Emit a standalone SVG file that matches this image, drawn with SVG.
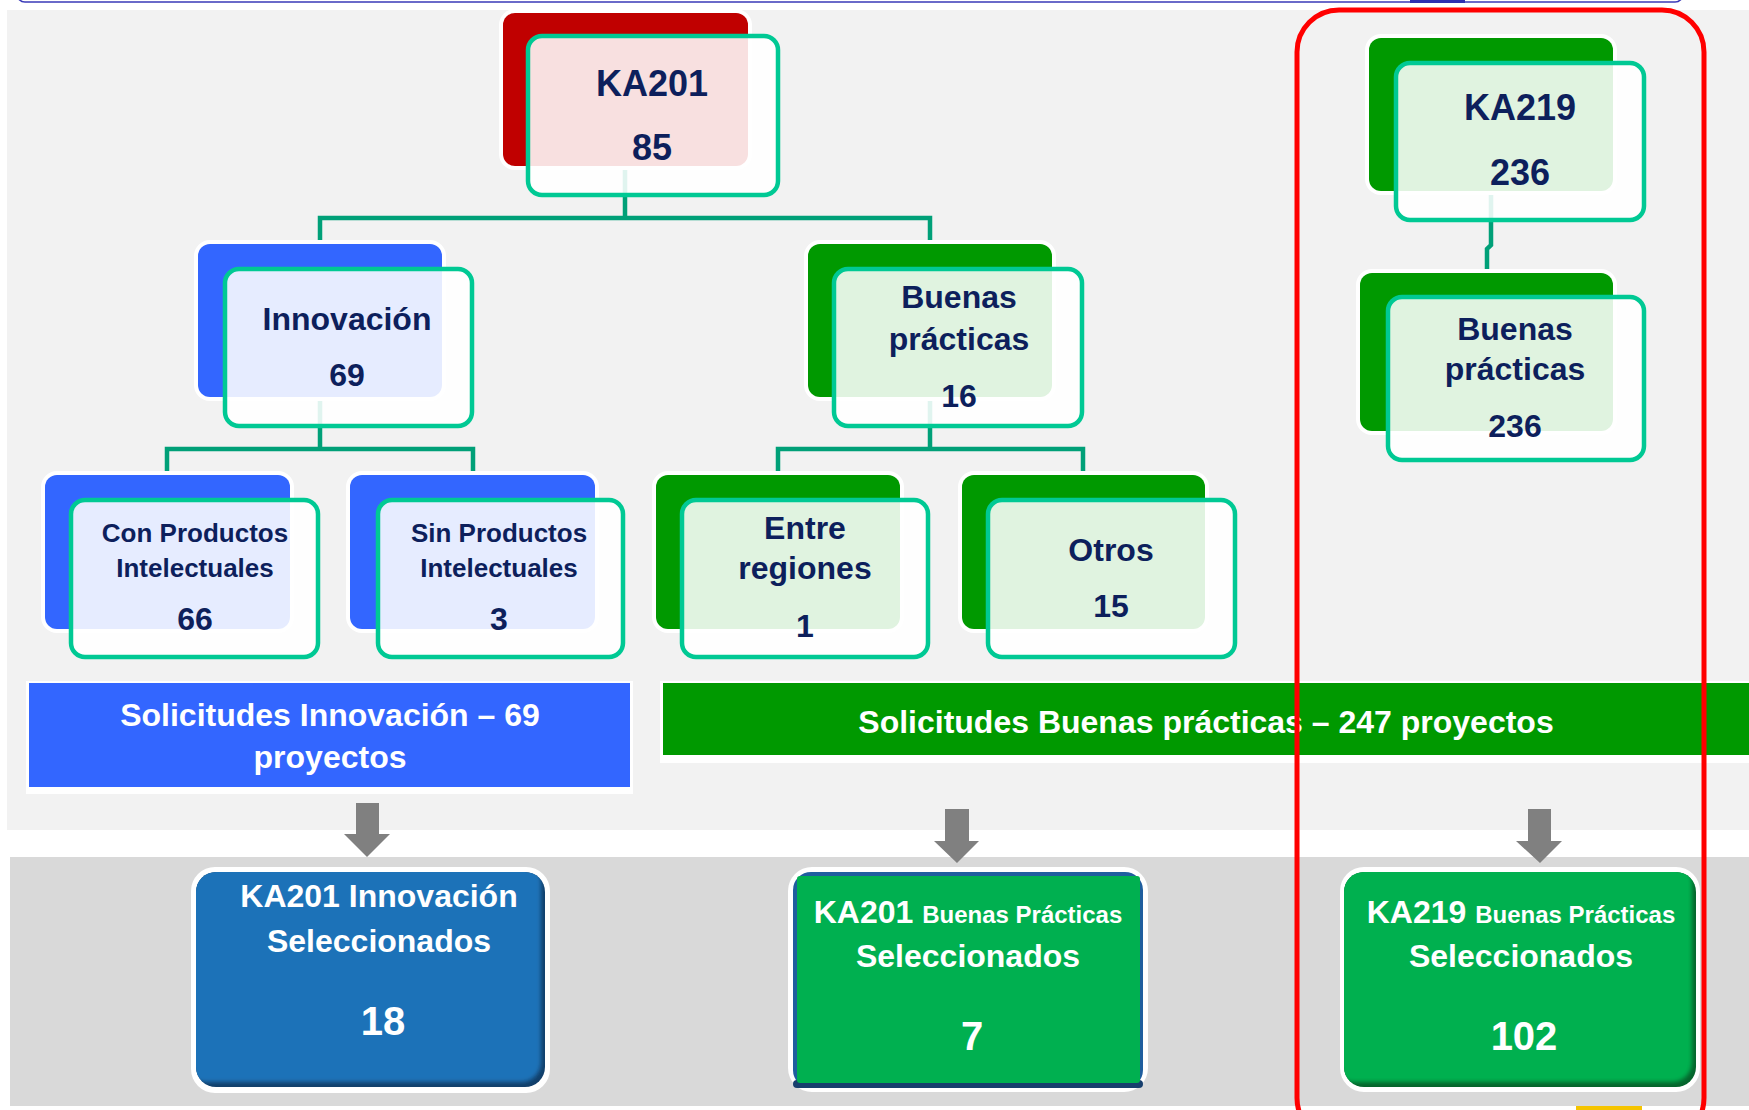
<svg xmlns="http://www.w3.org/2000/svg" width="1749" height="1110" viewBox="0 0 1749 1110">
<style>
.bk{stroke:#fff;stroke-width:8;paint-order:stroke}
.fr{fill:#fff;fill-opacity:.88;stroke:#00c994;stroke-width:4.5}
.t{font-family:"Liberation Sans",Arial,sans-serif;font-weight:bold;fill:#0d1f5c;text-anchor:middle}
.w{fill:#fff}
.s36{font-size:36px}.s32{font-size:32px}.s26{font-size:26px}.s24{font-size:24px}.s40{font-size:40px}
.red{fill:#c00000}.blu{fill:#3366ff}.grn{fill:#009900}
.con{fill:none;stroke:#00a078;stroke-width:4.5}
.arr{fill:#808080}
</style>
<defs>
<filter id="soft" x="-5%" y="-5%" width="110%" height="110%"><feGaussianBlur stdDeviation="2"/></filter>
<clipPath id="c1"><rect x="196" y="872" width="349" height="215" rx="20"/></clipPath>
<clipPath id="c3"><rect x="1344" y="872" width="352" height="215" rx="20"/></clipPath>
</defs>
<rect width="1749" height="1110" fill="#ffffff"/>
<rect x="17" y="-40" width="1666" height="42" rx="8" fill="none" stroke="#3a3ab8" stroke-width="1.6"/>
<rect x="1410" y="0" width="55" height="3" fill="#2f2fb0"/>
<rect x="7" y="10" width="1742" height="820" fill="#f2f2f2"/>
<rect x="10" y="857" width="1739" height="249" fill="#d9d9d9"/>

<g id="connectors">
<path class="con" d="M625 166 V218 M320 244 V218 H930 V244"/>
<path class="con" d="M320 397 V449 M167 475 V449 H473 V475"/>
<path class="con" d="M930 397 V449 M778 475 V449 H1083 V475"/>
<path class="con" d="M1491 191 V245 L1487 249 V273"/>
</g>

<g id="node-ka201">
<rect class="bk red" x="503" y="13" width="245" height="153" rx="12"/>
<rect class="fr" x="528" y="36" width="250" height="159" rx="14"/>
<text class="t s36" x="652" y="96">KA201</text>
<text class="t s36" x="652" y="160">85</text>
</g>
<g id="node-innovacion">
<rect class="bk blu" x="198" y="244" width="244" height="153" rx="12"/>
<rect class="fr" x="225" y="269" width="247" height="157" rx="14"/>
<text class="t s32" x="347" y="330">Innovación</text>
<text class="t s32" x="347" y="386">69</text>
</g>
<g id="node-bp201">
<rect class="bk grn" x="808" y="244" width="244" height="153" rx="12"/>
<rect class="fr" x="834" y="269" width="248" height="157" rx="14"/>
<text class="t s32" x="959" y="308">Buenas</text>
<text class="t s32" x="959" y="350">prácticas</text>
<text class="t s32" x="959" y="407">16</text>
</g>
<g id="node-ka219">
<rect class="bk grn" x="1369" y="38" width="244" height="153" rx="12"/>
<rect class="fr" x="1396" y="63" width="248" height="157" rx="14"/>
<text class="t s36" x="1520" y="120">KA219</text>
<text class="t s36" x="1520" y="185">236</text>
</g>
<g id="node-bp219">
<rect class="bk grn" x="1360" y="273" width="253" height="158" rx="12"/>
<rect class="fr" x="1388" y="297" width="256" height="163" rx="14"/>
<text class="t s32" x="1515" y="340">Buenas</text>
<text class="t s32" x="1515" y="380">prácticas</text>
<text class="t s32" x="1515" y="437">236</text>
</g>
<g id="node-con">
<rect class="bk blu" x="45" y="475" width="245" height="154" rx="12"/>
<rect class="fr" x="71" y="500" width="247" height="157" rx="14"/>
<text class="t s26" x="195" y="542">Con Productos</text>
<text class="t s26" x="195" y="577">Intelectuales</text>
<text class="t s32" x="195" y="630">66</text>
</g>
<g id="node-sin">
<rect class="bk blu" x="350" y="475" width="245" height="154" rx="12"/>
<rect class="fr" x="378" y="500" width="245" height="157" rx="14"/>
<text class="t s26" x="499" y="542">Sin Productos</text>
<text class="t s26" x="499" y="577">Intelectuales</text>
<text class="t s32" x="499" y="630">3</text>
</g>
<g id="node-entre">
<rect class="bk grn" x="656" y="475" width="244" height="154" rx="12"/>
<rect class="fr" x="682" y="500" width="246" height="157" rx="14"/>
<text class="t s32" x="805" y="539">Entre</text>
<text class="t s32" x="805" y="579">regiones</text>
<text class="t s32" x="805" y="637">1</text>
</g>
<g id="node-otros">
<rect class="bk grn" x="962" y="475" width="243" height="154" rx="12"/>
<rect class="fr" x="988" y="500" width="247" height="157" rx="14"/>
<text class="t s32" x="1111" y="561">Otros</text>
<text class="t s32" x="1111" y="617">15</text>
</g>

<g id="band-innovacion">
<rect x="26" y="681" width="607" height="113" fill="#ffffff"/>
<rect x="29" y="683" width="601" height="104" fill="#3366ff"/>
<text class="t w s32" x="330" y="726">Solicitudes Innovación – 69</text>
<text class="t w s32" x="330" y="768">proyectos</text>
</g>
<g id="band-bp">
<rect x="660" y="681" width="1089" height="82" fill="#ffffff"/>
<rect x="663" y="683" width="1086" height="72" fill="#009900"/>
<text class="t w s32" x="1206" y="733">Solicitudes Buenas prácticas – 247 proyectos</text>
</g>

<g id="arrows">
<path class="arr" d="M356 803 H379 V834 H390 L367 857 L344 834 H356 Z"/>
<path class="arr" d="M945 809 H969 V841 H979 L957 863 L934 841 H945 Z"/>
<path class="arr" d="M1528 809 H1551 V841 H1562 L1540 863 L1516 841 H1528 Z"/>
</g>

<g id="sel-ka201-innovacion">
<rect x="191" y="867" width="359" height="226" rx="24" fill="#ffffff"/>
<rect x="196" y="872" width="349" height="215" rx="20" fill="#123f6a"/>
<g clip-path="url(#c1)"><rect x="186" y="862" width="355" height="220" rx="20" fill="#1f72b8" filter="url(#soft)"/></g>
<text class="t w s32" x="379" y="907">KA201 Innovación</text>
<text class="t w s32" x="379" y="952">Seleccionados</text>
<text class="t w s40" x="383" y="1035">18</text>
</g>
<g id="sel-ka201-bp">
<rect x="788" y="867" width="360" height="225" rx="24" fill="#ffffff"/>
<rect x="793" y="872" width="350" height="216" rx="18" fill="#1f5e9e"/>
<rect x="793" y="1080" width="350" height="8" rx="4" fill="#173f6d"/>
<rect x="797" y="876" width="343" height="207" rx="3" fill="#00b050"/>
<text class="t w s32" x="968" y="923">KA201 <tspan class="s24">Buenas Prácticas</tspan></text>
<text class="t w s32" x="968" y="967">Seleccionados</text>
<text class="t w s40" x="972" y="1050">7</text>
</g>
<g id="sel-ka219-bp">
<rect x="1340" y="867" width="360" height="225" rx="24" fill="#ffffff"/>
<rect x="1344" y="872" width="352" height="215" rx="20" fill="#05642c"/>
<g clip-path="url(#c3)"><rect x="1334" y="862" width="358" height="220" rx="20" fill="#00b050" filter="url(#soft)"/></g>
<text class="t w s32" x="1521" y="923">KA219 <tspan class="s24">Buenas Prácticas</tspan></text>
<text class="t w s32" x="1521" y="967">Seleccionados</text>
<text class="t w s40" x="1524" y="1050">102</text>
</g>

<rect x="1576" y="1106" width="66" height="4" fill="#f5c400"/>
<rect id="highlight" x="1297" y="10" width="407" height="1130" rx="42" fill="none" stroke="#ff0000" stroke-width="5"/>
</svg>
